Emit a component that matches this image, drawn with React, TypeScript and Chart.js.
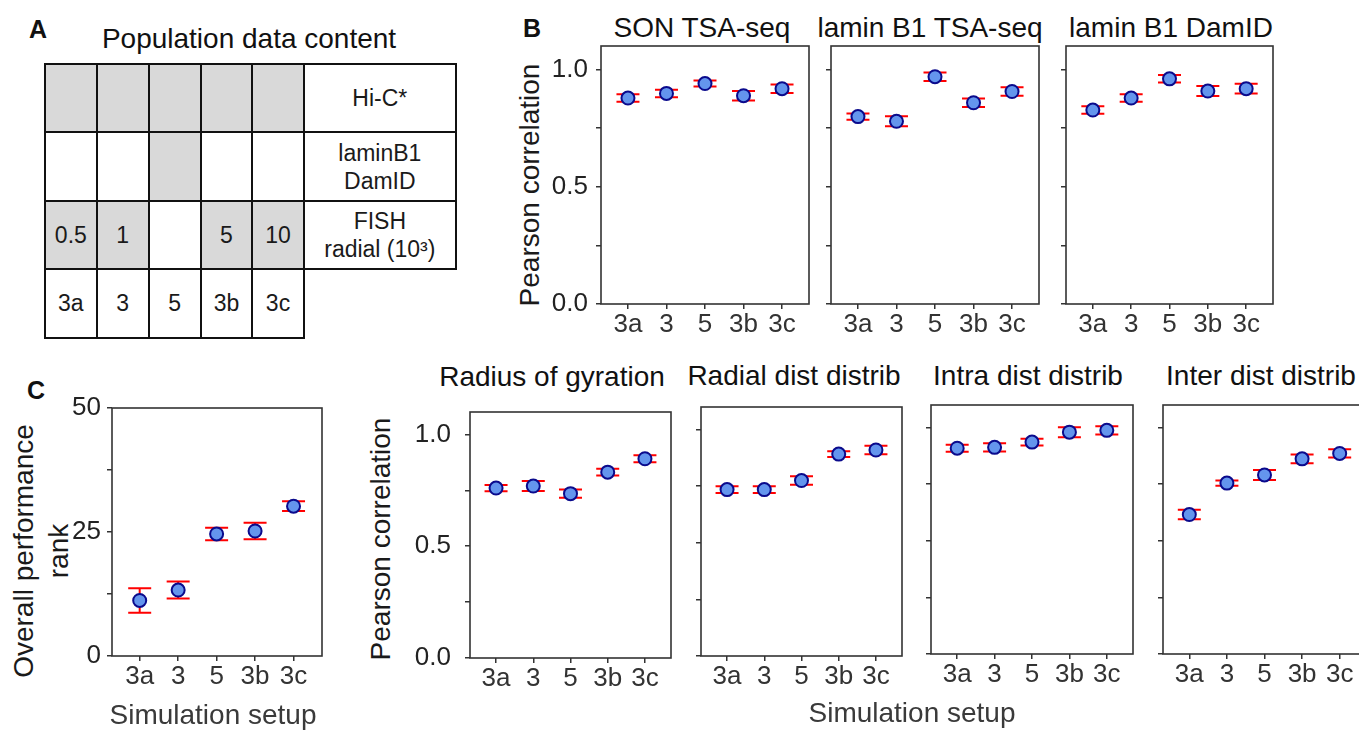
import React, { useEffect, useRef } from 'react';
import { Chart, registerables } from 'chart.js';

Chart.register(...registerables);

const FONT = "'Liberation Sans', Arial, Helvetica, sans-serif";

// ---------- data ----------
const SETUPS = ['3a', '3', '5', '3b', '3c'];

const SON_TSA = [0.878, 0.898, 0.94, 0.888, 0.918];
const SON_TSA_ERR = [0.016, 0.016, 0.013, 0.02, 0.018];
const LAMIN_TSA = [0.799, 0.779, 0.969, 0.858, 0.906];
const LAMIN_TSA_ERR = [0.013, 0.021, 0.018, 0.018, 0.018];
const LAMIN_DAMID = [0.827, 0.878, 0.96, 0.908, 0.918];
const LAMIN_DAMID_ERR = [0.016, 0.016, 0.016, 0.021, 0.021];

const RANK = [11.2, 13.3, 24.6, 25.2, 30.2];
const RANK_ERR = [2.46, 1.71, 1.27, 1.67, 0.98];

const RADIUS_GYRATION = [0.76, 0.769, 0.735, 0.831, 0.891];
const RADIUS_GYRATION_ERR = [0.014, 0.022, 0.018, 0.015, 0.016];
const RADIAL_DIST = [0.735, 0.735, 0.775, 0.892, 0.91];
const RADIAL_DIST_ERR = [0.015, 0.015, 0.019, 0.013, 0.019];
const INTRA_DIST = [0.909, 0.913, 0.936, 0.98, 0.988];
const INTRA_DIST_ERR = [0.015, 0.018, 0.015, 0.022, 0.018];
const INTER_DIST = [0.616, 0.755, 0.791, 0.862, 0.886];
const INTER_DIST_ERR = [0.021, 0.012, 0.022, 0.019, 0.018];

const CORR_TICKS = [0, 0.25, 0.5, 0.75, 1.0];
const CORR_TICK_LABELS = ['0.0', '', '0.5', '', '1.0'];
const RANK_TICKS = [0, 12.5, 25, 37.5, 50];
const RANK_TICK_LABELS = ['0', '', '25', '', '50'];

// Panel A table content
const TABLE_ROW_LABELS = [['Hi-C*'], ['laminB1', 'DamID'], ['FISH', 'radial (10³)']];
const HIC_SHADED = [true, true, true, true, true];
const DAMID_SHADED = [false, false, true, false, false];
const FISH_SHADED = [true, true, false, true, true];
const FISH_COUNTS = ['0.5', '1', '', '5', '10'];

// ---------- layout ----------
const TABLE_COLS = [45, 96.7, 148.7, 200.7, 252.3, 303.7, 456];
const TABLE_ROWS = [64, 132.3, 201, 269.3, 337.7];

type Box = { l: number; t: number; r: number; b: number };

type PlotProps = {
  box: Box;
  values: number[];
  errors: number[];
  yMax: number;
  yTicks: number[];
  yTickLabels: string[];
  showYLabels: boolean;
  yLabelPad?: number;
  xMin?: number;
  xMax?: number;
};

function ErrorPlot({ box, values, errors, yMax, yTicks, yTickLabels, showYLabels, yLabelPad = 8, xMin = -0.7, xMax = 4.7 }: PlotProps) {
  const ref = useRef<HTMLCanvasElement | null>(null);
  const padL = showYLabels ? 80 : 14;
  const padT = 24;
  const padR = 14;
  const padB = 46;
  const W = box.r - box.l + padL + padR;
  const H = box.b - box.t + padT + padB;

  useEffect(() => {
    const canvas = ref.current;
    if (!canvas) return;
    const errorBars = {
      id: 'errorBars',
      beforeDatasetsDraw(chart: any) {
        const { ctx } = chart;
        const x = chart.scales.x;
        const y = chart.scales.y;
        ctx.save();
        ctx.strokeStyle = '#ff0000';
        ctx.lineWidth = 2;
        values.forEach((v, i) => {
          const px = x.getPixelForValue(i);
          const top = y.getPixelForValue(v + errors[i]);
          const bot = y.getPixelForValue(v - errors[i]);
          ctx.beginPath();
          ctx.moveTo(px, top);
          ctx.lineTo(px, bot);
          ctx.moveTo(px - 11.5, top);
          ctx.lineTo(px + 11.5, top);
          ctx.moveTo(px - 11.5, bot);
          ctx.lineTo(px + 11.5, bot);
          ctx.stroke();
        });
        ctx.restore();
      },
    };
    const frame = {
      id: 'frame',
      beforeDatasetsDraw(chart: any) {
        const { ctx, chartArea: a } = chart;
        ctx.save();
        ctx.strokeStyle = '#333';
        ctx.lineWidth = 1.6;
        ctx.strokeRect(a.left, a.top, a.right - a.left, a.bottom - a.top);
        ctx.restore();
      },
    };
    const chart = new Chart(canvas, {
      type: 'scatter',
      data: {
        datasets: [
          {
            data: values.map((v, i) => ({ x: i, y: v })),
            pointRadius: 6.5,
            pointHoverRadius: 6.5,
            pointBorderWidth: 2,
            backgroundColor: '#6495ed',
            borderColor: '#0a0a8c',
          },
        ],
      },
      options: {
        responsive: false,
        animation: false,
        events: [],
        layout: { padding: { top: padT, right: padR, left: 0, bottom: 0 } },
        plugins: { legend: { display: false }, tooltip: { enabled: false }, title: { display: false } },
        scales: {
          x: {
            type: 'linear',
            min: xMin,
            max: xMax,
            afterFit: (s: any) => {
              s.height = padB;
            },
            afterBuildTicks: (s: any) => {
              s.ticks = SETUPS.map((_, i) => ({ value: i }));
            },
            ticks: {
              callback: (v: any) => SETUPS[Math.round(Number(v))] ?? '',
              font: { family: FONT, size: 26, lineHeight: 1 },
              color: '#333',
              padding: 3,
              maxRotation: 0,
              autoSkip: false,
            },
            grid: { drawOnChartArea: false, drawTicks: true, tickLength: 5, color: '#333', lineWidth: 1.5 },
            border: { display: false },
          },
          y: {
            type: 'linear',
            min: 0,
            max: yMax,
            afterFit: (s: any) => {
              s.width = padL;
            },
            afterBuildTicks: (s: any) => {
              s.ticks = yTicks.map((v) => ({ value: v }));
            },
            ticks: {
              callback: (v: any) => {
                if (!showYLabels) return '';
                const idx = yTicks.findIndex((t) => Math.abs(t - Number(v)) < 1e-9);
                return idx >= 0 ? yTickLabels[idx] : '';
              },
              font: { family: FONT, size: 26, lineHeight: 1 },
              color: '#222',
              padding: yLabelPad,
              autoSkip: false,
            },
            grid: { drawOnChartArea: false, drawTicks: true, tickLength: 5, color: '#333', lineWidth: 1.5 },
            border: { display: false },
          },
        },
      },
      plugins: [frame, errorBars],
    });
    return () => chart.destroy();
  }, []);

  return (
    <canvas
      ref={ref}
      width={W}
      height={H}
      style={{ position: 'absolute', left: box.l - padL, top: box.t - padT, width: W, height: H }}
    />
  );
}

type LabelProps = {
  x: number;
  y: number;
  size?: number;
  bold?: boolean;
  rotate?: boolean;
  color?: string;
  lineHeight?: number;
  children: React.ReactNode;
};

function Label({ x, y, size = 28, bold = false, rotate = false, color = '#111', lineHeight, children }: LabelProps) {
  return (
    <div
      style={{
        position: 'absolute',
        left: x,
        top: y,
        transform: `translate(-50%, -50%)${rotate ? ' rotate(-90deg)' : ''}`,
        fontFamily: FONT,
        fontSize: size,
        fontWeight: bold ? 700 : 400,
        lineHeight: lineHeight ? `${lineHeight}px` : 1,
        whiteSpace: 'nowrap',
        textAlign: 'center',
        color,
      }}
    >
      {children}
    </div>
  );
}

function Cell({ c0, c1, r, shaded, lines }: { c0: number; c1: number; r: number; shaded: boolean; lines: string[] }) {
  const x0 = TABLE_COLS[c0];
  const x1 = TABLE_COLS[c1];
  const y0 = TABLE_ROWS[r];
  const y1 = TABLE_ROWS[r + 1];
  return (
    <div
      style={{
        position: 'absolute',
        left: x0 - 1,
        top: y0 - 1,
        width: x1 - x0 + 2,
        height: y1 - y0 + 2,
        boxSizing: 'border-box',
        border: '2px solid #111',
        background: shaded ? '#d9d9d9' : '#fff',
        display: 'flex',
        flexDirection: 'column',
        alignItems: 'center',
        justifyContent: 'center',
        fontFamily: FONT,
        fontSize: 23,
        lineHeight: '28px',
        color: '#1a1a1a',
        whiteSpace: 'nowrap',
      }}
    >
      {lines.map((l, i) => (
        <div key={i}>{l}</div>
      ))}
    </div>
  );
}

function PopulationTable() {
  const rows = [HIC_SHADED, DAMID_SHADED, FISH_SHADED];
  const cells: React.ReactNode[] = [];
  rows.forEach((shade, r) => {
    shade.forEach((s, c) => {
      const txt = r === 2 && FISH_COUNTS[c] ? [FISH_COUNTS[c]] : [];
      cells.push(<Cell key={`c${r}-${c}`} c0={c} c1={c + 1} r={r} shaded={s} lines={txt} />);
    });
    cells.push(<Cell key={`l${r}`} c0={5} c1={6} r={r} shaded={false} lines={TABLE_ROW_LABELS[r]} />);
  });
  SETUPS.forEach((s, c) => {
    cells.push(<Cell key={`s${c}`} c0={c} c1={c + 1} r={3} shaded={false} lines={[s]} />);
  });
  return <>{cells}</>;
}

export default function App() {
  const corr = { yMax: 1.1, yTicks: CORR_TICKS, yTickLabels: CORR_TICK_LABELS };
  return (
    <div
      style={{
        position: 'fixed',
        left: 0,
        top: 0,
        width: 1359,
        height: 730,
        overflow: 'hidden',
        background: '#fff',
        fontFamily: FONT,
      }}
    >
      {/* Panel A */}
      <Label x={38} y={29} size={25} bold>A</Label>
      <Label x={249} y={38.5}>Population data content</Label>
      <PopulationTable />

      {/* Panel B */}
      <Label x={532} y={28} size={25} bold>B</Label>
      <Label x={702} y={28}>SON TSA-seq</Label>
      <Label x={930} y={28}>lamin B1 TSA-seq</Label>
      <Label x={1171} y={28}>lamin B1 DamID</Label>
      <Label x={530} y={185} rotate color="#1a1a1a">Pearson correlation</Label>
      <ErrorPlot box={{ l: 601, t: 46, r: 809, b: 304 }} values={SON_TSA} errors={SON_TSA_ERR} showYLabels yLabelPad={8} {...corr} />
      <ErrorPlot box={{ l: 831, t: 46, r: 1039, b: 304 }} values={LAMIN_TSA} errors={LAMIN_TSA_ERR} showYLabels={false} {...corr} />
      <ErrorPlot box={{ l: 1066, t: 46, r: 1273, b: 304 }} values={LAMIN_DAMID} errors={LAMIN_DAMID_ERR} showYLabels={false} {...corr} />

      {/* Panel C */}
      <Label x={36} y={390} size={25} bold>C</Label>
      <Label x={41} y={551} rotate lineHeight={35} color="#1a1a1a">
        Overall performance
        <br />
        rank
      </Label>
      <ErrorPlot
        box={{ l: 112, t: 408, r: 322, b: 656 }}
        values={RANK}
        errors={RANK_ERR}
        yMax={50}
        yTicks={RANK_TICKS}
        yTickLabels={RANK_TICK_LABELS}
        showYLabels
        yLabelPad={6}
        xMin={-0.72}
        xMax={4.74}
      />
      <Label x={213} y={715} color="#3a3a3a">Simulation setup</Label>

      <Label x={552} y={377}>Radius of gyration</Label>
      <Label x={794} y={376}>Radial dist distrib</Label>
      <Label x={1028} y={376}>Intra dist distrib</Label>
      <Label x={1261} y={376}>Inter dist distrib</Label>
      <Label x={381} y={539} rotate color="#1a1a1a">Pearson correlation</Label>
      <ErrorPlot box={{ l: 470, t: 409, r: 671, b: 658 }} values={RADIUS_GYRATION} errors={RADIUS_GYRATION_ERR} showYLabels yLabelPad={14} {...corr} />
      <ErrorPlot box={{ l: 701, t: 407, r: 902, b: 656 }} values={RADIAL_DIST} errors={RADIAL_DIST_ERR} showYLabels={false} {...corr} />
      <ErrorPlot box={{ l: 931, t: 405, r: 1133, b: 654 }} values={INTRA_DIST} errors={INTRA_DIST_ERR} showYLabels={false} {...corr} />
      <ErrorPlot box={{ l: 1163, t: 405, r: 1366, b: 654 }} values={INTER_DIST} errors={INTER_DIST_ERR} showYLabels={false} {...corr} />
      <Label x={912} y={713} color="#3a3a3a">Simulation setup</Label>
    </div>
  );
}
